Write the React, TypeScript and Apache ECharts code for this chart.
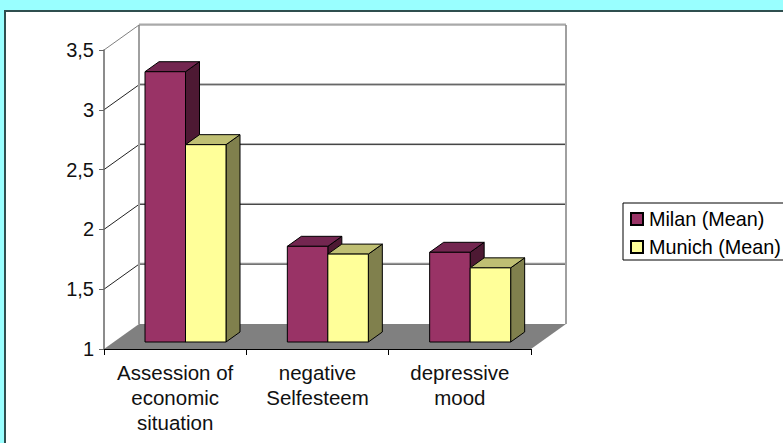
import React, { useEffect, useRef } from "react";
import * as echarts from "echarts";

const categories = ["Assession of\neconomic\nsituation", "negative\nSelfesteem", "depressive\nmood"];
const milanMean = [3.26, 1.8, 1.75];
const munichMean = [2.65, 1.735, 1.62];
const gridValues = [1.5, 2, 2.5, 3, 3.5];
const milanShades = ["#993366", "#732650", "#4D1933"];
const munichShades = ["#FFFF99", "#BFBF73", "#80804D"];

// Oblique projection used for the fake 3D look, in pixels.
const WALL_DX = 35;
const WALL_DY = -25;
const BAR_INSET_X = 10;
const BAR_INSET_Y = -7;
const BAR_DX = 14;
const BAR_DY = -10;
const BAR_WIDTH = 40.5;
const BAR_GAP = 31;

const FONT = "'Liberation Sans', Arial, sans-serif";

const poly = (points: number[][], fill: string, stroke: string | null, lineWidth = 1) => ({
  type: "polygon",
  shape: { points },
  style: { fill, stroke: stroke ?? undefined, lineWidth },
});

const seg = (x1: number, y1: number, x2: number, y2: number, stroke: string, lineWidth = 1) => ({
  type: "line",
  shape: { x1, y1, x2, y2 },
  style: { stroke, lineWidth, fill: "none" },
});

// One extruded bar: front, top and side faces.
const barRenderer = (slot: number, shades: string[]) => (_: any, api: any) => {
  const index = api.value(0);
  const [cx, yTop] = api.coord([index, api.value(1)]);
  const [, yBase] = api.coord([index, 1]);
  const band = api.size([1, 0])[0];
  const x0 = cx - band / 2 + BAR_INSET_X + BAR_GAP + slot * BAR_WIDTH;
  const x1 = x0 + BAR_WIDTH;
  const top = yTop + BAR_INSET_Y;
  const base = yBase + BAR_INSET_Y;
  return {
    type: "group",
    children: [
      poly([[x1, top], [x1 + BAR_DX, top + BAR_DY], [x1 + BAR_DX, base + BAR_DY], [x1, base]], shades[2], "#000"),
      poly([[x0, top], [x0 + BAR_DX, top + BAR_DY], [x1 + BAR_DX, top + BAR_DY], [x1, top]], shades[1], "#000"),
      poly([[x0, top], [x1, top], [x1, base], [x0, base]], shades[0], "#000"),
    ],
  };
};

// Floor, back wall outline and the grid lines running along both walls.
const wallRenderer = (_: any, api: any) => {
  const value = api.value(1);
  const [xLeft, y] = api.coord([0, value]);
  const band = api.size([1, 0])[0];
  const left = xLeft - band / 2;
  const right = left + band * categories.length;
  const isTop = value === gridValues[gridValues.length - 1];
  const backY = y + WALL_DY;
  const children: any[] = [
    seg(left, y, left + WALL_DX, backY, isTop ? "#808080" : "#222"),
    seg(left + WALL_DX, backY - 1, right + WALL_DX, backY - 1, "#A6A6A6"),
    seg(left + WALL_DX, backY, right + WALL_DX, backY, isTop ? "#808080" : "#333"),
  ];
  if (isTop) {
    const floorY = api.coord([0, 1])[1];
    children.unshift(
      poly(
        [[left, floorY], [right, floorY], [right + WALL_DX, floorY + WALL_DY], [left + WALL_DX, floorY + WALL_DY]],
        "#808080",
        null,
      ),
      seg(left + WALL_DX, backY, left + WALL_DX, floorY + WALL_DY, "#A0A0A0", 2),
      seg(right + WALL_DX, backY, right + WALL_DX, floorY + WALL_DY, "#A0A0A0", 2),
    );
  }
  return { type: "group", children };
};

export default function App() {
  const ref = useRef<HTMLDivElement>(null);

  useEffect(() => {
    document.body.style.margin = "0";
    const chart = echarts.init(ref.current!, null, { renderer: "svg" });
    chart.setOption({
      animation: false,
      backgroundColor: "#99FFFF",
      textStyle: { fontFamily: FONT },
      graphic: [
        {
          type: "rect",
          z: -1,
          shape: { x: 5, y: 11, width: 800, height: 460 },
          style: { fill: "#FFFFFF", stroke: "#2F4F4F", lineWidth: 2 },
        },
      ],
      grid: { left: 104, right: 252, top: 50, bottom: 94 },
      legend: {
        left: 623,
        top: 203,
        orient: "vertical",
        icon: "rect",
        itemWidth: 12,
        itemHeight: 12,
        itemGap: 8,
        selectedMode: false,
        padding: [6, 12, 3, 7],
        borderColor: "#000",
        borderWidth: 1,
        backgroundColor: "#FFF",
        data: ["Milan (Mean)", "Munich (Mean)"],
        textStyle: { fontFamily: FONT, fontSize: 19.8, lineHeight: 20, color: "#000", padding: [0, 0, 0, 1] },
      },
      xAxis: {
        type: "category",
        data: categories,
        z: 2,
        axisLine: { lineStyle: { color: "#000", width: 1 } },
        axisTick: { show: true, length: 6, lineStyle: { color: "#000" } },
        axisLabel: { color: "#111", fontFamily: FONT, fontSize: 20.5, lineHeight: 25, margin: 11, interval: 0 },
      },
      yAxis: {
        type: "value",
        min: 1,
        max: 3.5,
        interval: 0.5,
        z: 2,
        splitLine: { show: false },
        axisLine: { show: true, lineStyle: { color: "#666", width: 1.5 } },
        axisTick: { show: true, length: 5, lineStyle: { color: "#666" } },
        axisLabel: {
          color: "#111",
          fontFamily: FONT,
          fontSize: 20,
          margin: 10,
          formatter: (v: number) => String(v).replace(".", ","),
        },
      },
      series: [
        {
          type: "custom",
          name: "walls",
          z: 1,
          silent: true,
          renderItem: wallRenderer,
          encode: { x: 0, y: 1 },
          data: [...gridValues].map((v) => [0, v]),
        },
        {
          type: "custom",
          name: "Milan (Mean)",
          z: 3,
          renderItem: barRenderer(0, milanShades),
          encode: { x: 0, y: 1 },
          itemStyle: { color: milanShades[0], borderColor: "#000", borderWidth: 1 },
          data: milanMean.map((v, i) => [i, v]),
        },
        {
          type: "custom",
          name: "Munich (Mean)",
          z: 3,
          renderItem: barRenderer(1, munichShades),
          encode: { x: 0, y: 1 },
          itemStyle: { color: munichShades[0], borderColor: "#000", borderWidth: 1 },
          data: munichMean.map((v, i) => [i, v]),
        },
      ],
    });
    return () => chart.dispose();
  }, []);

  return <div ref={ref} style={{ width: 783, height: 443 }} />;
}
